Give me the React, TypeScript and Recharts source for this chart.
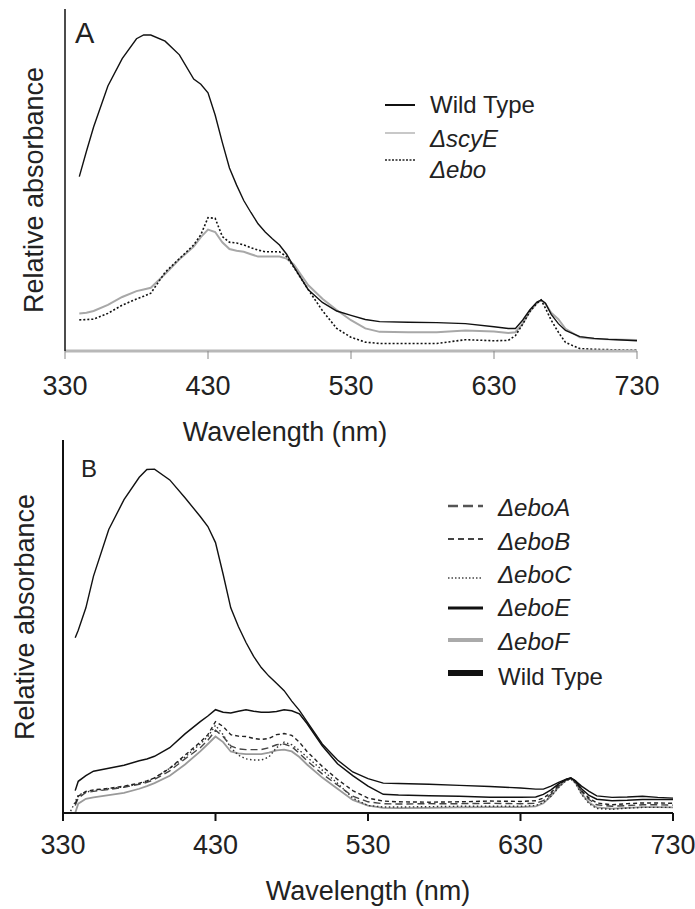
import React from 'react';
import { LineChart, Line, XAxis, YAxis, Legend, Label } from 'recharts';

const FONT = '"Liberation Sans", Arial, Helvetica, sans-serif';
const TEXT = '#222';

// Shared wavelength grid (nm)
const wavelengths = [335, 338, 340, 345, 350, 360, 370, 380, 385, 390, 400, 410, 420, 425, 430, 435, 440, 445, 450, 455, 460, 465, 470, 475, 480, 485, 490, 500, 510, 520, 530, 540, 550, 570, 590, 610, 630, 640, 645, 650, 655, 660, 663, 666, 670, 675, 680, 690, 700, 710, 720, 730];
const xTicks = [330, 430, 530, 630, 730];

// Panel A
const wildTypeA = [null, null, 0.51, 0.584, 0.655, 0.775, 0.855, 0.913, 0.924, 0.924, 0.906, 0.866, 0.795, 0.78, 0.755, 0.69, 0.61, 0.535, 0.485, 0.44, 0.405, 0.372, 0.348, 0.328, 0.31, 0.283, 0.247, 0.18, 0.142, 0.117, 0.104, 0.092, 0.086, 0.084, 0.083, 0.08, 0.071, 0.066, 0.066, 0.09, 0.12, 0.143, 0.149, 0.14, 0.107, 0.08, 0.06, 0.042, 0.037, 0.034, 0.032, 0.03];
const scyEA = [null, null, 0.11, 0.112, 0.117, 0.135, 0.158, 0.175, 0.18, 0.185, 0.225, 0.268, 0.305, 0.333, 0.355, 0.348, 0.318, 0.298, 0.293, 0.29, 0.283, 0.276, 0.276, 0.276, 0.276, 0.27, 0.253, 0.193, 0.153, 0.12, 0.09, 0.066, 0.056, 0.055, 0.055, 0.06, 0.057, 0.053, 0.055, 0.08, 0.115, 0.14, 0.149, 0.138, 0.112, 0.093, 0.065, 0.04, 0.036, 0.034, 0.033, 0.032];
const eboA = [null, null, 0.091, 0.092, 0.093, 0.11, 0.134, 0.152, 0.16, 0.169, 0.23, 0.27, 0.31, 0.34, 0.39, 0.388, 0.335, 0.318, 0.316, 0.31, 0.302, 0.295, 0.29, 0.29, 0.29, 0.276, 0.245, 0.18, 0.118, 0.066, 0.04, 0.026, 0.022, 0.022, 0.022, 0.033, 0.03, 0.031, 0.045, 0.078, 0.115, 0.14, 0.149, 0.125, 0.09, 0.055, 0.025, 0.007, 0.005, 0.004, 0.003, 0.003];

// Panel B
const wildTypeB = [null, 0.47, 0.49, 0.55, 0.635, 0.76, 0.84, 0.9, 0.921, 0.922, 0.893, 0.845, 0.795, 0.768, 0.725, 0.64, 0.55, 0.5, 0.457, 0.42, 0.39, 0.367, 0.348, 0.328, 0.3, 0.275, 0.245, 0.185, 0.142, 0.11, 0.092, 0.08, 0.079, 0.077, 0.074, 0.071, 0.067, 0.064, 0.064, 0.072, 0.082, 0.091, 0.094, 0.086, 0.072, 0.058, 0.046, 0.042, 0.043, 0.045, 0.042, 0.04];
const eboE = [null, 0.06, 0.085, 0.1, 0.112, 0.12, 0.128, 0.14, 0.145, 0.152, 0.175, 0.212, 0.245, 0.26, 0.277, 0.27, 0.268, 0.273, 0.277, 0.273, 0.27, 0.27, 0.272, 0.277, 0.274, 0.266, 0.24, 0.18, 0.132, 0.1, 0.072, 0.05, 0.048, 0.046, 0.045, 0.042, 0.042, 0.043, 0.05, 0.062, 0.078, 0.09, 0.094, 0.086, 0.065, 0.047, 0.037, 0.033, 0.034, 0.036, 0.036, 0.036];
const eboB = [null, 0.025, 0.045, 0.058, 0.062, 0.066, 0.072, 0.08, 0.086, 0.094, 0.12, 0.155, 0.19, 0.21, 0.245, 0.232, 0.21, 0.206, 0.205, 0.2, 0.197, 0.2, 0.21, 0.213, 0.208, 0.19, 0.165, 0.125, 0.09, 0.06, 0.04, 0.032, 0.03, 0.029, 0.03, 0.032, 0.031, 0.033, 0.04, 0.055, 0.075, 0.09, 0.093, 0.085, 0.06, 0.04, 0.027, 0.022, 0.025, 0.027, 0.027, 0.026];
const eboAdel = [null, 0.02, 0.04, 0.055, 0.058, 0.063, 0.069, 0.077, 0.082, 0.09, 0.113, 0.145, 0.175, 0.195, 0.222, 0.205, 0.18, 0.172, 0.17, 0.17, 0.17, 0.175, 0.183, 0.185, 0.178, 0.16, 0.14, 0.105, 0.075, 0.045, 0.03, 0.025, 0.024, 0.025, 0.025, 0.026, 0.025, 0.026, 0.033, 0.05, 0.072, 0.089, 0.092, 0.083, 0.058, 0.036, 0.022, 0.018, 0.02, 0.022, 0.022, 0.021];
const eboC = [0.005, 0.03, 0.048, 0.056, 0.06, 0.065, 0.07, 0.078, 0.085, 0.094, 0.12, 0.15, 0.185, 0.205, 0.235, 0.21, 0.175, 0.155, 0.145, 0.142, 0.142, 0.15, 0.175, 0.19, 0.183, 0.168, 0.15, 0.115, 0.08, 0.04, 0.02, 0.016, 0.016, 0.017, 0.018, 0.018, 0.018, 0.02, 0.028, 0.045, 0.068, 0.087, 0.091, 0.08, 0.05, 0.025, 0.012, 0.01, 0.013, 0.015, 0.015, 0.015];
const eboF = [null, 0.0, 0.025, 0.038, 0.042, 0.048, 0.054, 0.065, 0.072, 0.08, 0.1, 0.13, 0.165, 0.185, 0.205, 0.19, 0.165, 0.16, 0.158, 0.158, 0.158, 0.162, 0.168, 0.17, 0.165, 0.15, 0.13, 0.095, 0.065, 0.035, 0.02, 0.014, 0.013, 0.014, 0.015, 0.016, 0.016, 0.018, 0.026, 0.045, 0.07, 0.088, 0.092, 0.082, 0.052, 0.028, 0.015, 0.012, 0.014, 0.016, 0.016, 0.015];

const dataA = wavelengths.map((wl, i) => ({ wl, wt: wildTypeA[i], scyE: scyEA[i], ebo: eboA[i] }));
const dataB = wavelengths.map((wl, i) => ({ wl, a: eboAdel[i], b: eboB[i], c: eboC[i], e: eboE[i], f: eboF[i], wt: wildTypeB[i] }));

type Row = { name: string; italic: boolean; stroke: string; width: number; dash?: string; lineY: number; base: number };

const legendRowsA: Row[] = [
  { name: 'Wild Type', italic: false, stroke: '#111', width: 2, lineY: 105, base: 113 },
  { name: '\u0394scyE', italic: true, stroke: '#c8c8c8', width: 2, lineY: 133, base: 147 },
  { name: '\u0394ebo', italic: true, stroke: '#222', width: 1.5, dash: '2 1.5', lineY: 160, base: 178 },
];

const legendRowsB: Row[] = [
  { name: '\u0394eboA', italic: true, stroke: '#555', width: 2.5, dash: '10 5', lineY: 76, base: 86 },
  { name: '\u0394eboB', italic: true, stroke: '#444', width: 2, dash: '6 4', lineY: 109, base: 120 },
  { name: '\u0394eboC', italic: true, stroke: '#444', width: 1.5, dash: '1.5 2', lineY: 148, base: 153 },
  { name: '\u0394eboE', italic: true, stroke: '#111', width: 3, lineY: 178, base: 186 },
  { name: '\u0394eboF', italic: true, stroke: '#aaa', width: 4, lineY: 210, base: 220 },
  { name: 'Wild Type', italic: false, stroke: '#111', width: 6, lineY: 243, base: 255 },
];

const makeLegend = (rows: Row[], x1: number, x2: number, tx: number, w: number, h: number) => () => (
  <svg width={w} height={h} style={{ display: 'block', overflow: 'visible' }}>
    {rows.map((r) => (
      <g key={r.name}>
        <line x1={x1} x2={x2} y1={r.lineY} y2={r.lineY} stroke={r.stroke} strokeWidth={r.width} strokeDasharray={r.dash} />
        <text x={tx} y={r.base} fontFamily={FONT} fontSize={24} fill={TEXT} fontStyle={r.italic ? 'italic' : 'normal'}>
          {r.name}
        </text>
      </g>
    ))}
  </svg>
);

const LegendA = makeLegend(legendRowsA, 385, 415, 430, 695, 450);
const LegendB = makeLegend(legendRowsB, 448, 483, 498, 695, 479);

const tickStyle = { fontSize: 27, fill: TEXT, fontFamily: FONT };

export default function App() {
  return (
    <div style={{ position: 'absolute', left: 0, top: 0, width: 695, height: 909, background: '#fff', overflow: 'hidden' }}>
      <div style={{ position: 'absolute', left: 0, top: 0 }}>
        <LineChart width={695} height={450} data={dataA} margin={{ top: 9, right: 58, left: 5, bottom: 39 }}>
          <XAxis
            dataKey="wl"
            type="number"
            domain={[330, 730]}
            ticks={xTicks}
            interval={0}
            height={60}
            tickSize={8}
            tickMargin={17}
            axisLine={{ stroke: '#b8b8b8', strokeWidth: 3 }}
            tickLine={{ stroke: '#888', strokeWidth: 1 }}
            tick={tickStyle}
          >
            <Label
              content={(p: any) => {
                const vb = p.viewBox || { x: 65, y: 351, width: 572 };
                return (
                  <text x={vb.x + 220} y={vb.y + 90} textAnchor="middle" fontFamily={FONT} fontSize={27} fill={TEXT}>
                    Wavelength (nm)
                  </text>
                );
              }}
            />
          </XAxis>
          <YAxis type="number" domain={[0, 1]} width={60} tick={false} tickLine={false} axisLine={{ stroke: '#111', strokeWidth: 1.5 }}>
            <Label
              content={(p: any) => {
                const vb = p.viewBox || { x: 5, y: 9 };
                const lx = vb.x + 38;
                const ly = vb.y + 181;
                return (
                  <g>
                    <text x={lx} y={ly} transform={`rotate(-90 ${lx} ${ly})`} textAnchor="middle" fontFamily={FONT} fontSize={27} fill={TEXT}>
                      Relative absorbance
                    </text>
                    <text x={vb.x + 70} y={vb.y + 34} fontFamily={FONT} fontSize={29} fill={TEXT}>
                      A
                    </text>
                  </g>
                );
              }}
            />
          </YAxis>
          <Legend layout="vertical" align="center" verticalAlign="middle" content={LegendA} wrapperStyle={{ position: 'absolute', left: 0, top: 0, width: 695, height: 450, pointerEvents: 'none' }} />
          <Line type="linear" dataKey="scyE" stroke="#a8a8a8" strokeWidth={2} dot={false} isAnimationActive={false} />
          <Line type="linear" dataKey="ebo" stroke="#111" strokeWidth={1.6} strokeDasharray="2 2" dot={false} isAnimationActive={false} />
          <Line type="linear" dataKey="wt" stroke="#111" strokeWidth={1.4} dot={false} isAnimationActive={false} />
        </LineChart>
      </div>
      <div style={{ position: 'absolute', left: 0, top: 430 }}>
        <LineChart width={695} height={479} data={dataB} margin={{ top: 10, right: 22, left: 3, bottom: 36 }}>
          <XAxis
            dataKey="wl"
            type="number"
            domain={[330, 730]}
            ticks={xTicks}
            interval={0}
            height={60}
            tickSize={8}
            tickMargin={14}
            axisLine={{ stroke: '#111', strokeWidth: 2 }}
            tickLine={{ stroke: '#111', strokeWidth: 2 }}
            tick={tickStyle}
          >
            <Label
              content={(p: any) => {
                const vb = p.viewBox || { x: 63, y: 383, width: 610 };
                return (
                  <text x={vb.x + vb.width / 2} y={vb.y + 87} textAnchor="middle" fontFamily={FONT} fontSize={27} fill={TEXT}>
                    Wavelength (nm)
                  </text>
                );
              }}
            />
          </XAxis>
          <YAxis type="number" domain={[0, 1]} width={60} tick={false} tickLine={false} axisLine={{ stroke: '#111', strokeWidth: 2 }}>
            <Label
              content={(p: any) => {
                const vb = p.viewBox || { x: 3, y: 10 };
                const lx = vb.x + 31;
                const ly = vb.y + 177;
                return (
                  <g>
                    <text x={lx} y={ly} transform={`rotate(-90 ${lx} ${ly})`} textAnchor="middle" fontFamily={FONT} fontSize={27} fill={TEXT}>
                      Relative absorbance
                    </text>
                    <text x={vb.x + 78} y={vb.y + 37} fontFamily={FONT} fontSize={24} fill={TEXT}>
                      B
                    </text>
                  </g>
                );
              }}
            />
          </YAxis>
          <Legend layout="vertical" align="center" verticalAlign="middle" content={LegendB} wrapperStyle={{ position: 'absolute', left: 0, top: 0, width: 695, height: 479, pointerEvents: 'none' }} />
          <Line type="linear" dataKey="f" stroke="#9a9a9a" strokeWidth={1.8} dot={false} isAnimationActive={false} />
          <Line type="linear" dataKey="c" stroke="#333" strokeWidth={1.4} strokeDasharray="1.5 2.5" dot={false} isAnimationActive={false} />
          <Line type="linear" dataKey="a" stroke="#444" strokeWidth={1.4} strokeDasharray="7 4" dot={false} isAnimationActive={false} />
          <Line type="linear" dataKey="b" stroke="#222" strokeWidth={1.4} strokeDasharray="4 3" dot={false} isAnimationActive={false} />
          <Line type="linear" dataKey="e" stroke="#111" strokeWidth={1.5} dot={false} isAnimationActive={false} />
          <Line type="linear" dataKey="wt" stroke="#111" strokeWidth={1.4} dot={false} isAnimationActive={false} />
        </LineChart>
      </div>
    </div>
  );
}
